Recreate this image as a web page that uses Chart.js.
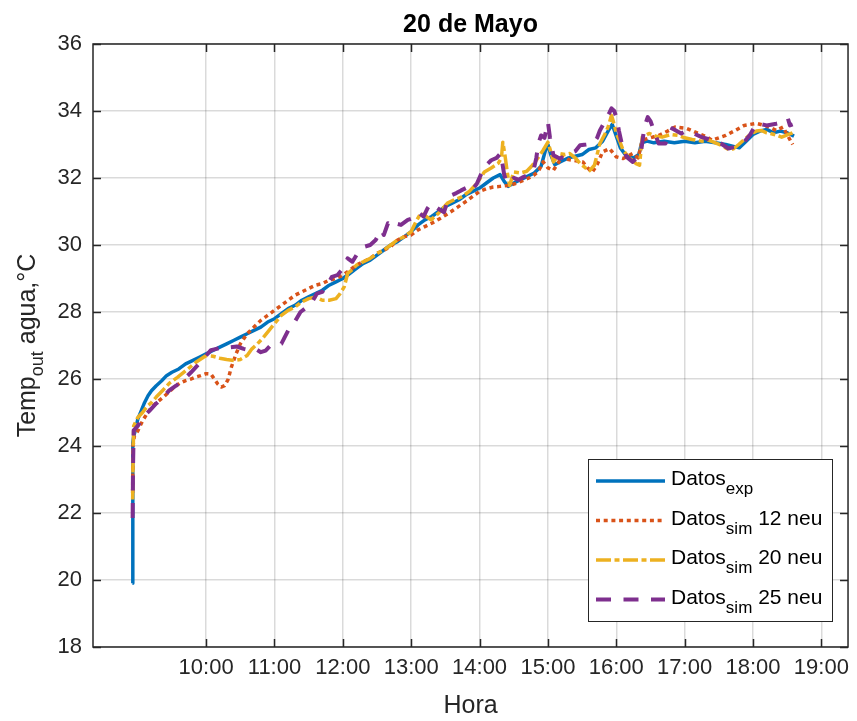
<!DOCTYPE html>
<html>
<head>
<meta charset="utf-8">
<script src="https://cdn.jsdelivr.net/npm/chart.js@4.4.0/dist/chart.umd.min.js"></script>
<style>
  html, body { margin: 0; padding: 0; background: #fff; }
</style>
</head>
<body>
<canvas id="chart" width="857" height="721"></canvas>
<script>
// ----------------------------
// DATA (hours of the day, temperature in °C)
// ----------------------------
const hourTicks = [10, 11, 12, 13, 14, 15, 16, 17, 18, 19];
const tempTicks = [18, 20, 22, 24, 26, 28, 30, 32, 34, 36];

const expTime = [8.922, 8.925, 8.93, 8.94, 8.97, 9.0, 9.05, 9.1, 9.15, 9.2, 9.27, 9.35, 9.42, 9.5, 9.6, 9.7, 9.8, 9.9, 10.0, 10.1, 10.2, 10.3, 10.4, 10.5, 10.6, 10.7, 10.8, 10.9, 11.0, 11.1, 11.2, 11.3, 11.4, 11.5, 11.6, 11.7, 11.8, 11.9, 12.0, 12.1, 12.2, 12.3, 12.4, 12.5, 12.6, 12.7, 12.8, 12.9, 13.0, 13.1, 13.2, 13.3, 13.4, 13.5, 13.6, 13.7, 13.8, 13.9, 14.0, 14.1, 14.2, 14.3, 14.36, 14.42, 14.5, 14.6, 14.7, 14.8, 14.9, 14.96, 15.0, 15.04, 15.1, 15.2, 15.3, 15.4, 15.5, 15.6, 15.7, 15.8, 15.88, 15.94, 16.0, 16.06, 16.15, 16.25, 16.33, 16.37, 16.45, 16.55, 16.7, 16.85, 17.0, 17.15, 17.3, 17.45, 17.6, 17.7, 17.8, 17.9, 18.0, 18.1, 18.2, 18.3, 18.4, 18.5, 18.6];
const expTemp = [19.9, 23.0, 24.1, 24.3, 24.5, 24.8, 25.05, 25.3, 25.5, 25.65, 25.8, 25.95, 26.1, 26.2, 26.3, 26.45, 26.55, 26.65, 26.75, 26.85, 26.95, 27.05, 27.15, 27.25, 27.35, 27.45, 27.55, 27.7, 27.8, 27.95, 28.1, 28.2, 28.35, 28.45, 28.55, 28.65, 28.8, 28.9, 29.0, 29.15, 29.3, 29.45, 29.55, 29.7, 29.85, 30.0, 30.1, 30.25, 30.4, 30.6, 30.75, 30.85, 31.0, 31.15, 31.25, 31.35, 31.5, 31.6, 31.7, 31.85, 32.0, 32.1, 31.9, 31.75, 31.85, 31.95, 32.05, 32.15, 32.35, 32.8, 33.0, 32.7, 32.4, 32.5, 32.6, 32.65, 32.7, 32.85, 32.9, 33.1, 33.4, 33.6, 33.25, 32.9, 32.65, 32.6, 32.7, 33.05, 33.1, 33.05, 33.1, 33.05, 33.1, 33.05, 33.1, 33.05, 33.0, 32.95, 32.9, 33.1, 33.3, 33.4, 33.45, 33.35, 33.4, 33.35, 33.25];

const sim12Time = [8.925, 8.93, 8.95, 9.0, 9.07, 9.13, 9.2, 9.28, 9.37, 9.45, 9.53, 9.61, 9.7, 9.78, 9.85, 9.92, 10.0, 10.07, 10.12, 10.17, 10.22, 10.27, 10.32, 10.37, 10.44, 10.5, 10.6, 10.7, 10.8, 10.9, 11.0, 11.1, 11.2, 11.3, 11.4, 11.5, 11.6, 11.7, 11.8, 11.9, 12.0, 12.1, 12.2, 12.3, 12.4, 12.5, 12.6, 12.7, 12.8, 12.9, 13.0, 13.1, 13.2, 13.3, 13.43, 13.55, 13.68, 13.8, 13.9, 14.0, 14.1, 14.2, 14.3, 14.44, 14.55, 14.64, 14.72, 14.79, 14.86, 14.93, 15.0, 15.08, 15.15, 15.22, 15.3, 15.37, 15.45, 15.51, 15.58, 15.65, 15.72, 15.8, 15.9, 16.0, 16.1, 16.24, 16.32, 16.38, 16.5, 16.62, 16.75, 16.86, 17.03, 17.2, 17.3, 17.4, 17.5, 17.6, 17.74, 17.87, 18.05, 18.2, 18.34, 18.44, 18.53, 18.58];
const sim12Temp = [22.6, 24.0, 24.3, 24.45, 24.75, 24.95, 25.15, 25.3, 25.45, 25.6, 25.75, 25.87, 25.95, 26.0, 26.06, 26.1, 26.16, 26.15, 26.0, 25.85, 25.76, 25.8, 25.98, 26.36, 26.76, 27.05, 27.35, 27.55, 27.75, 27.9, 28.05, 28.2, 28.35, 28.5, 28.6, 28.7, 28.8, 28.85, 28.95, 29.0, 29.1, 29.25, 29.4, 29.5, 29.6, 29.75, 29.85, 29.95, 30.15, 30.25, 30.3, 30.45, 30.55, 30.65, 30.8, 30.95, 31.13, 31.3, 31.45, 31.6, 31.68, 31.73, 31.75, 31.78, 31.85, 31.93, 32.0, 32.08, 32.2, 32.48, 32.3, 32.23, 32.45, 32.68, 32.55, 32.53, 32.5, 32.48, 32.3, 32.18, 32.4, 32.78, 32.88, 32.63, 32.58, 32.73, 32.6, 33.13, 33.2, 33.27, 33.4, 33.52, 33.48, 33.33, 33.25, 33.13, 33.2, 33.27, 33.42, 33.57, 33.63, 33.55, 33.42, 33.52, 33.18, 33.0];

const sim20Time = [8.925, 8.93, 8.94, 9.0, 9.07, 9.13, 9.2, 9.27, 9.36, 9.46, 9.58, 9.71, 9.85, 10.0, 10.1, 10.2, 10.3, 10.41, 10.5, 10.6, 10.67, 10.75, 10.82, 10.9, 11.0, 11.1, 11.2, 11.3, 11.4, 11.5, 11.6, 11.7, 11.8, 11.9, 11.96, 12.02, 12.07, 12.13, 12.2, 12.3, 12.4, 12.5, 12.6, 12.7, 12.8, 12.9, 13.0, 13.07, 13.14, 13.22, 13.29, 13.4, 13.53, 13.63, 13.73, 13.85, 13.96, 14.07, 14.17, 14.27, 14.32, 14.34, 14.37, 14.41, 14.44, 14.5, 14.6, 14.69, 14.76, 14.83, 14.93, 15.0, 15.04, 15.08, 15.17, 15.25, 15.32, 15.4, 15.47, 15.55, 15.61, 15.68, 15.76, 15.83, 15.88, 15.93, 15.97, 16.0, 16.05, 16.1, 16.19, 16.29, 16.34, 16.38, 16.48, 16.58, 16.67, 16.8, 16.91, 17.0, 17.11, 17.25, 17.35, 17.45, 17.53, 17.6, 17.66, 17.72, 17.79, 17.9, 17.98, 18.05, 18.12, 18.2, 18.27, 18.35, 18.42, 18.52, 18.61];
const sim20Temp = [22.4, 23.5, 24.6, 24.85, 25.0, 25.17, 25.3, 25.46, 25.65, 25.87, 26.05, 26.26, 26.5, 26.7, 26.68, 26.62, 26.58, 26.55, 26.58, 26.7, 26.9, 27.05, 27.2, 27.4, 27.65, 27.9, 28.05, 28.15, 28.3, 28.4, 28.45, 28.35, 28.35, 28.4, 28.55, 28.75, 29.15, 29.25, 29.4, 29.5, 29.6, 29.75, 29.85, 30.0, 30.15, 30.25, 30.4, 30.7, 30.95, 30.85, 30.75, 30.95, 31.25, 31.35, 31.43, 31.6, 31.84, 32.18, 32.3, 32.43, 32.6, 33.07, 32.7, 32.1, 31.78, 32.18, 32.15, 32.2, 32.35, 32.53, 32.83, 33.07, 32.8, 32.48, 32.73, 32.7, 32.73, 32.6, 32.43, 32.3, 32.22, 32.38, 33.03, 33.3, 33.52, 33.87, 33.6, 33.33, 33.1, 32.83, 32.6, 32.43, 32.38, 33.22, 33.33, 33.25, 33.22, 33.3, 33.27, 33.2, 33.15, 33.1, 33.13, 33.05, 32.98, 32.9, 32.83, 32.88, 33.0, 33.2, 33.33, 33.4, 33.42, 33.35, 33.32, 33.28, 33.22, 33.3, 33.37];

const sim25Time = [8.925, 8.93, 8.94, 9.0, 9.08, 9.17, 9.27, 9.37, 9.46, 9.56, 9.66, 9.78, 9.9, 10.0, 10.07, 10.15, 10.26, 10.36, 10.45, 10.55, 10.64, 10.72, 10.8, 10.87, 10.94, 11.02, 11.1, 11.15, 11.2, 11.28, 11.38, 11.48, 11.55, 11.62, 11.7, 11.77, 11.84, 11.92, 12.0, 12.07, 12.14, 12.2, 12.26, 12.32, 12.4, 12.48, 12.56, 12.6, 12.66, 12.72, 12.76, 12.85, 12.95, 13.02, 13.1, 13.18, 13.24, 13.29, 13.35, 13.42, 13.48, 13.53, 13.58, 13.66, 13.73, 13.8, 13.87, 13.96, 14.07, 14.17, 14.25, 14.31, 14.36, 14.4, 14.45, 14.5, 14.57, 14.64, 14.72, 14.79, 14.83, 14.86, 14.9, 14.95, 15.0, 15.03, 15.08, 15.17, 15.25, 15.32, 15.4, 15.47, 15.56, 15.66, 15.72, 15.76, 15.81, 15.85, 15.9, 15.93, 15.97, 16.0, 16.04, 16.08, 16.15, 16.24, 16.3, 16.36, 16.41, 16.46, 16.5, 16.55, 16.62, 16.72, 16.82, 16.95, 17.03, 17.11, 17.25, 17.4, 17.53, 17.64, 17.74, 17.87, 17.96, 18.05, 18.2, 18.34, 18.44, 18.51, 18.54, 18.58];
const sim25Temp = [21.85, 23.3, 24.47, 24.6, 24.87, 25.05, 25.27, 25.45, 25.66, 25.8, 25.96, 26.2, 26.46, 26.7, 26.86, 26.9, 26.96, 26.95, 26.97, 26.9, 26.86, 26.9, 26.8, 26.85, 27.0, 26.98, 27.05, 27.25, 27.45, 27.65, 28.0, 28.15, 28.3, 28.55, 28.6, 28.8, 29.05, 29.1, 29.3, 29.6, 29.5, 29.7, 29.8, 29.95, 30.0, 30.15, 30.45, 30.3, 30.65, 30.55, 30.65, 30.6, 30.75, 30.8, 30.98, 30.85, 31.1, 31.24, 31.15, 31.05, 30.98, 31.3, 31.48, 31.55, 31.63, 31.7, 31.58, 31.83, 32.33, 32.53, 32.6, 32.74, 32.1, 31.84, 31.9, 32.0, 31.95, 32.03, 32.1, 32.23, 32.6, 33.03, 33.27, 33.2, 33.67, 33.2, 32.68, 32.58, 32.65, 32.73, 32.8, 32.98, 33.0, 33.03, 33.2, 33.42, 33.6, 33.78, 33.95, 34.08, 34.0, 33.82, 33.4, 33.03, 32.63, 32.48, 32.6, 32.74, 33.52, 33.82, 33.7, 33.42, 33.03, 33.03, 33.48, 33.33, 33.42, 33.35, 33.22, 33.13, 33.03, 32.88, 32.93, 33.07, 33.3, 33.63, 33.57, 33.62, 33.67, 33.78, 33.57, 33.6];

// legend rows: main text, subscript, tail text
const legendMain = ["Datos", "Datos", "Datos", "Datos"];
const legendSub = ["exp", "sim", "sim", "sim"];
const legendTail = ["", " 12 neu", " 20 neu", " 25 neu"];

const FONT = "'Liberation Sans', Arial, Helvetica, sans-serif";
const INK = "#262626";

function toPoints(xs, ys) {
  return xs.map((x, i) => ({ x: x, y: ys[i] }));
}

// ----------------------------
// TEXT WITH SUBSCRIPT HELPER
// ----------------------------
function drawSubText(ctx, x, y, main, sub, tail, size, subSize, subDrop) {
  ctx.font = size + "px " + FONT;
  ctx.fillText(main, x, y);
  let w = ctx.measureText(main).width;
  ctx.font = subSize + "px " + FONT;
  ctx.fillText(sub, x + w, y + subDrop);
  w += ctx.measureText(sub).width;
  ctx.font = size + "px " + FONT;
  ctx.fillText(tail, x + w, y);
  return w + ctx.measureText(tail).width;
}

function measureSubText(ctx, main, sub, tail, size, subSize) {
  ctx.font = size + "px " + FONT;
  let w = ctx.measureText(main).width + ctx.measureText(tail).width;
  ctx.font = subSize + "px " + FONT;
  return w + ctx.measureText(sub).width;
}

// ----------------------------
// FRAME, TITLES AND LEGEND PLUGIN
// ----------------------------
const decorations = {
  id: "decorations",
  afterDraw(chart) {
    const ctx = chart.ctx;
    const a = chart.chartArea;
    const xs = chart.scales.x;
    const ys = chart.scales.y;

    ctx.save();
    // axes box
    ctx.strokeStyle = INK;
    ctx.lineWidth = 1.5;
    ctx.setLineDash([]);
    ctx.strokeRect(a.left, a.top, a.right - a.left, a.bottom - a.top);

    // inward tick marks on all four sides
    const tl = 8;
    ctx.beginPath();
    hourTicks.forEach(h => {
      const px = Math.round(xs.getPixelForValue(h)) + 0.5;
      ctx.moveTo(px, a.bottom); ctx.lineTo(px, a.bottom - tl);
      ctx.moveTo(px, a.top); ctx.lineTo(px, a.top + tl);
    });
    tempTicks.forEach(t => {
      const py = Math.round(ys.getPixelForValue(t)) + 0.5;
      ctx.moveTo(a.left, py); ctx.lineTo(a.left + tl, py);
      ctx.moveTo(a.right, py); ctx.lineTo(a.right - tl, py);
    });
    ctx.stroke();

    // title
    const cx = (a.left + a.right) / 2;
    ctx.fillStyle = "#000";
    ctx.textAlign = "center";
    ctx.textBaseline = "alphabetic";
    ctx.font = "bold 25px " + FONT;
    ctx.fillText("20 de Mayo", cx, 32);

    // x axis title
    ctx.fillStyle = INK;
    ctx.font = "25px " + FONT;
    ctx.fillText("Hora", cx, 713);

    // y axis title, rotated, with subscript
    ctx.textAlign = "left";
    const yw = measureSubText(ctx, "Temp", "out", " agua,°C", 25, 18);
    ctx.translate(35, (a.top + a.bottom) / 2);
    ctx.rotate(-Math.PI / 2);
    drawSubText(ctx, -yw / 2, 0, "Temp", "out", " agua,°C", 25, 18, 8);
    ctx.setTransform(1, 0, 0, 1, 0, 0);

    // legend
    const bx = 588.5, by = 459.5, bw = 244, bh = 162;
    ctx.fillStyle = "#fff";
    ctx.fillRect(bx, by, bw, bh);
    ctx.strokeStyle = INK;
    ctx.lineWidth = 1;
    ctx.strokeRect(bx, by, bw, bh);

    const rowY = [481, 520.5, 560, 599.5];
    chart.data.datasets.forEach((ds, i) => {
      const y = rowY[i];
      ctx.strokeStyle = ds.borderColor;
      ctx.lineWidth = ds.borderWidth;
      ctx.setLineDash(ds.borderDash || []);
      ctx.beginPath();
      ctx.moveTo(596, y);
      ctx.lineTo(665, y);
      ctx.stroke();
      ctx.setLineDash([]);
      ctx.fillStyle = "#000";
      drawSubText(ctx, 671, y + 4, legendMain[i], legendSub[i], legendTail[i], 21, 17, 9);
    });
    ctx.restore();
  }
};

// ----------------------------
// CHART
// ----------------------------
const ctx = document.getElementById("chart").getContext("2d");

new Chart(ctx, {
  type: "line",
  data: {
    datasets: [
      {
        label: "exp",
        data: toPoints(expTime, expTemp),
        borderColor: "#0072BD",
        borderWidth: 3.5,
        order: 4
      },
      {
        label: "sim 12",
        data: toPoints(sim12Time, sim12Temp),
        borderColor: "#D95319",
        borderWidth: 3.5,
        borderDash: [4, 3.7],
        order: 3
      },
      {
        label: "sim 20",
        data: toPoints(sim20Time, sim20Temp),
        borderColor: "#EDB120",
        borderWidth: 3.5,
        borderDash: [15, 3.5, 5, 3.5],
        order: 2
      },
      {
        label: "sim 25",
        data: toPoints(sim25Time, sim25Temp),
        borderColor: "#7E2F8E",
        borderWidth: 4,
        borderDash: [15, 12.5],
        order: 1
      }
    ]
  },
  options: {
    responsive: false,
    animation: false,
    devicePixelRatio: 1,
    layout: { padding: { top: 44, right: 3, left: 0, bottom: 0 } },
    elements: { point: { radius: 0 }, line: { tension: 0, borderJoinStyle: "round" } },
    plugins: { legend: { display: false }, tooltip: { enabled: false }, title: { display: false } },
    scales: {
      x: {
        type: "linear",
        min: 8.345,
        max: 19.39,
        afterBuildTicks: s => { s.ticks = hourTicks.map(v => ({ value: v })); },
        afterFit: s => { s.height = 74; },
        grid: { color: "rgba(38,38,38,0.17)", lineWidth: 1.5, drawTicks: false },
        border: { display: false },
        ticks: {
          padding: 8,
          color: INK,
          font: { family: FONT, size: 22 },
          maxRotation: 0,
          callback: v => v + ":00"
        }
      },
      y: {
        min: 18,
        max: 36,
        afterBuildTicks: s => { s.ticks = tempTicks.map(v => ({ value: v })); },
        afterFit: s => { s.width = 93; },
        grid: { color: "rgba(38,38,38,0.17)", lineWidth: 1.5, drawTicks: false },
        border: { display: false },
        ticks: {
          padding: 11,
          color: INK,
          font: { family: FONT, size: 22 },
          callback: v => String(v)
        }
      }
    }
  },
  plugins: [decorations]
});
</script>
</body>
</html>
